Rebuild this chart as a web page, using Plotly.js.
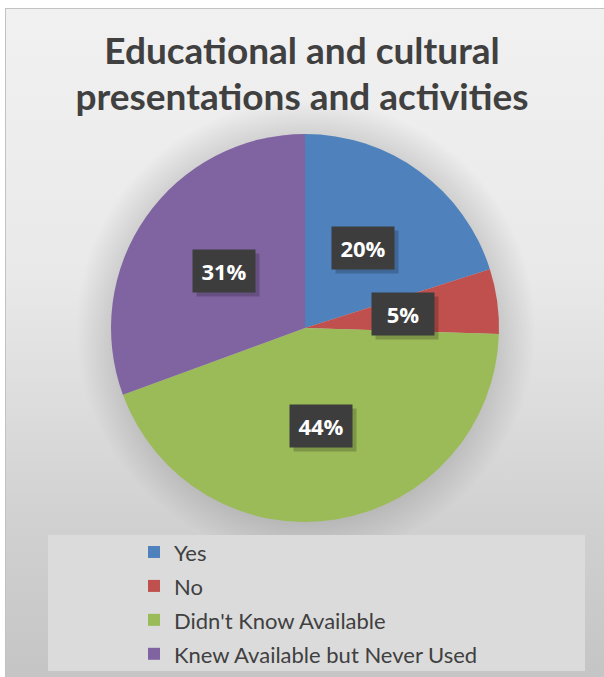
<!DOCTYPE html>
<html><head><meta charset="utf-8">
<script src="https://cdn.plot.ly/plotly-3.0.1.min.js"></script>
<style>
html,body{margin:0;padding:0;background:#fff;width:604px;height:677px;overflow:hidden;}
#bg{position:absolute;left:5px;top:8px;width:599px;height:669px;border-left:1px solid #c2c2c2;border-top:1px solid #c2c2c2;box-sizing:border-box;
background: radial-gradient(circle at 300px 320px, rgba(0,0,0,0.12) 0px, rgba(0,0,0,0.12) 193px, rgba(0,0,0,0) 230px),
            linear-gradient(to bottom, #f1f1f1 0%, #e9e9e9 40%, #d0d0d0 78%, #c5c5c5 100%);}
#chart{position:absolute;left:0;top:0;width:604px;height:677px;}
</style></head><body><div id="bg"></div><div id="chart"></div>
<script>
const categories = ['Yes', 'No', "Didn't Know Available", 'Knew Available but Never Used'];
const values = [20.1, 5.4, 43.9, 30.6];
const colors = ['#4f81bd', '#c0504d', '#9bbb59', '#8064a2'];
const titleLines = ['Educational and cultural', 'presentations and activities'];

const W = 604, H = 677;
const dom = {x: [0.1838, 0.8262], y: [0.2290, 0.8021]};
const cx = (dom.x[0] + dom.x[1]) / 2 * W;
const cy = (1 - (dom.y[0] + dom.y[1]) / 2) * H;
const R = Math.min((dom.x[1] - dom.x[0]) * W, (dom.y[1] - dom.y[0]) * H) / 2;
const total = values.reduce((a, b) => a + b, 0);

const annotations = [];
let cum = 0;
values.forEach((v, i) => {
  const mid = (cum + v / 2) / total * 2 * Math.PI;
  cum += v;
  const rl = 0.51 * R;
  const px = cx + rl * Math.sin(mid), py = cy - rl * Math.cos(mid);
  const txt = Math.round(v / total * 100) + '%';
  const base = {xref: 'paper', yref: 'paper', x: px / W, y: 1 - py / H, xanchor: 'center', yanchor: 'middle',
    showarrow: false, borderpad: 7, width: 48, height: 28, align: 'center', valign: 'middle'};
  annotations.push(Object.assign({}, base, {text: ' ', bgcolor: 'rgba(0,0,0,0.2)', xshift: 4, yshift: -4}));
  annotations.push(Object.assign({}, base, {text: txt, bgcolor: '#3d3d3d',
    font: {family: 'Open Sans', size: 22, weight: 'bold', color: '#ffffff'}}));
});

const data = [{
  type: 'pie',
  labels: categories.map(c => '<span style="font-size:22px">' + c + '</span>'),
  values: values,
  marker: {colors: colors, line: {width: 0}},
  sort: false,
  direction: 'clockwise',
  rotation: 0,
  textinfo: 'none',
  hoverinfo: 'percent',
  domain: dom
}];

const layout = {
  width: W, height: H,
  margin: {l: 0, r: 0, t: 0, b: 0, autoexpand: false},
  paper_bgcolor: 'rgba(0,0,0,0)',
  plot_bgcolor: 'rgba(0,0,0,0)',
  title: {
    text: titleLines.map(t => '<span style="font-size:37px">' + t + '</span>').join('<br>'),
    font: {family: 'Lato', size: 35.5, color: '#404040', weight: 'bold'},
    x: 0.5, xanchor: 'center', xref: 'paper',
    y: 1 - 64 / H, yref: 'container', yanchor: 'top'
  },
  showlegend: true,
  legend: {
    x: 134 / W, xanchor: 'left', y: 1 - 530 / H, yanchor: 'top',
    bgcolor: 'rgba(0,0,0,0)',
    font: {family: 'Lato', size: 23.8, color: '#404040'}
  },
  shapes: [{type: 'rect', xref: 'paper', yref: 'paper', x0: 48 / W, x1: 585 / W, y0: 1 - 671 / H, y1: 1 - 535 / H,
    fillcolor: '#dbdbdb', line: {width: 0}, layer: 'below'}],
  annotations: annotations
};

Plotly.newPlot('chart', data, layout, {displayModeBar: false});
</script>
</body></html>
